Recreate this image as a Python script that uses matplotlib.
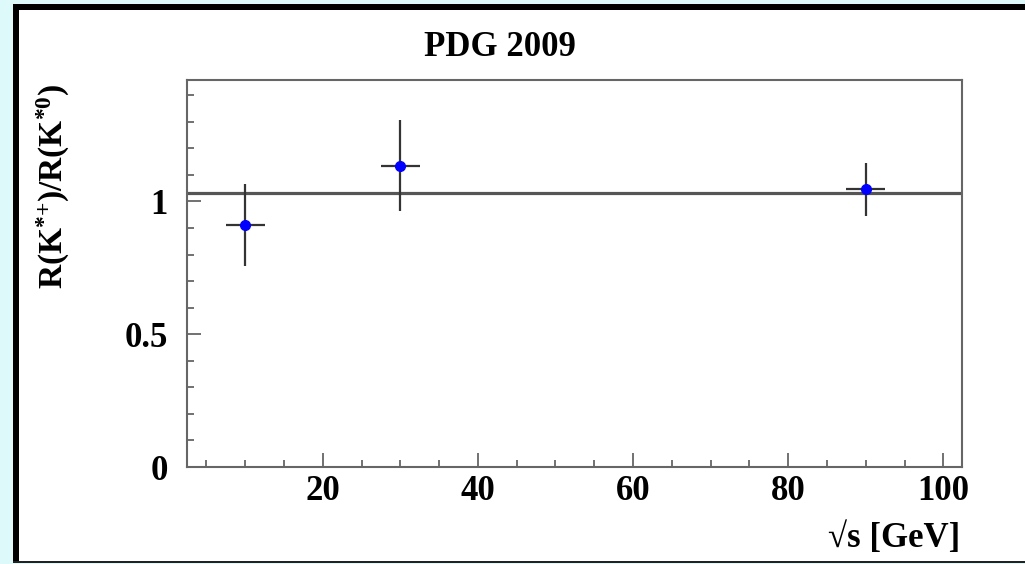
import matplotlib
matplotlib.use('Agg')
import matplotlib.pyplot as plt
from matplotlib.patches import Rectangle
from matplotlib.ticker import MultipleLocator

# K*+ / K*0 production ratio versus centre-of-mass energy
energy = [10.0, 30.0, 90.0]
energy_err = [2.5, 2.5, 2.5]
ratio = [0.91, 1.135, 1.046]
ratio_err = [0.155, 0.17, 0.10]
mean_ratio = 1.03

title = 'PDG 2009'
xlabel = '√s [GeV]'
ylabel = r'R(K$^{*{+}}$)/R(K$^{*{0}}$)'
xticks = [20, 40, 60, 80, 100]
yticks = [0, 0.5, 1]

W, H = 1025, 564
plt.rcParams['font.family'] = ['Liberation Serif', 'DejaVu Serif']
plt.rcParams['font.weight'] = 'bold'
plt.rcParams['mathtext.default'] = 'regular'

fig = plt.figure(figsize=(W / 100, H / 100), dpi=100)
fig.patch.set_facecolor('#ddf9f9')


def frame_rect(x0, y0, x1, y1, color):
    """Rectangle given in pixel coordinates measured from the top-left corner."""
    fig.add_artist(Rectangle((x0 / W, 1 - y1 / H), (x1 - x0) / W, (y1 - y0) / H,
                             transform=fig.transFigure, facecolor=color,
                             edgecolor='none', zorder=0))


# page panel with its dark border
frame_rect(19, 10, W, 561, 'white')
frame_rect(13, 4, 19, 563, 'black')
frame_rect(13, 4, W, 10, 'black')
frame_rect(13, 561, W, 563, '#222222')

ax = fig.add_axes([187 / W, 1 - 467 / H, (962 - 187) / W, (467 - 80) / H])
ax.set_xlim(2.5, 102.4)
ax.set_ylim(0, 1.457)

ax.axhline(mean_ratio, color='#555555', lw=2.3, zorder=2)
ax.errorbar(energy, ratio, xerr=energy_err, yerr=ratio_err, fmt='o',
            color='#0000ff', markersize=7, ecolor='#333333', elinewidth=1.6,
            capsize=0, zorder=3)

for s in ax.spines.values():
    s.set_color('#666666')
    s.set_linewidth(1.5)

ax.set_xticks(xticks)
ax.set_yticks(yticks)
ax.set_yticklabels(['0', '0.5', '1'])
ax.xaxis.set_minor_locator(MultipleLocator(5))
ax.yaxis.set_minor_locator(MultipleLocator(0.1))
ax.tick_params(which='both', direction='in', color='#666666', width=1.3,
               top=False, right=False, labelsize=25)
ax.tick_params(which='major', length=10)
ax.tick_params(which='minor', length=5)
ax.tick_params(axis='x', pad=6)
ax.tick_params(axis='y', pad=14)
for lab in ax.get_xticklabels() + ax.get_yticklabels():
    lab.set_fontweight('bold')

fig.text(500 / W, 1 - 56.5 / H, title, ha='center', va='baseline',
         fontsize=25, fontweight='bold')
fig.text(960 / W, 1 - 547 / H, xlabel, ha='right', va='baseline',
         fontsize=25, fontweight='bold')
fig.text(53 / W, 1 - 186 / H, ylabel, ha='center', va='center', rotation=90,
         fontsize=24, fontweight='bold')

fig.savefig('out.png', dpi=100, facecolor=fig.get_facecolor())
